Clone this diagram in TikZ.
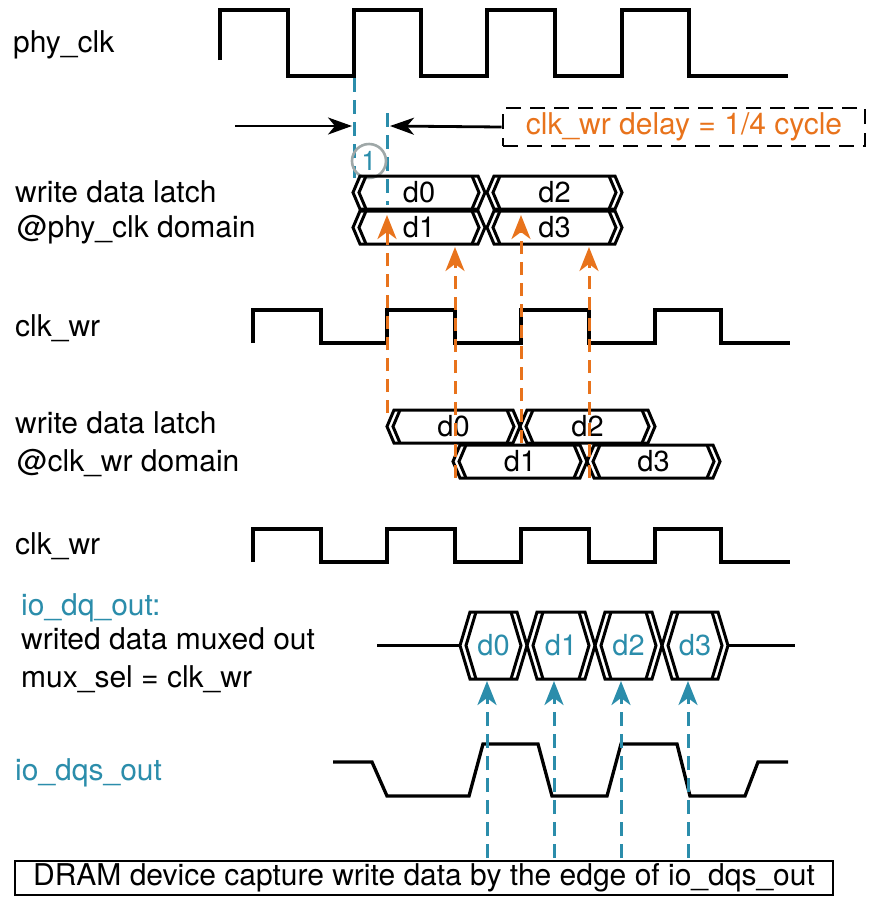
\documentclass[tikz,border=0pt]{standalone}
\usepackage{fontspec}
\setmainfont{TeX Gyre Heros}
\usetikzlibrary{arrows.meta}
\definecolor{worange}{HTML}{E8731C}
\definecolor{wblue}{HTML}{2B8DAB}
\definecolor{wgray}{HTML}{9FA8A8}
\newcommand{\busseg}[8]{%
  \draw[busline] (#2,{(#4+#5)/2}) -- ({#2+#6},#4) -- ({#3-#6},#4) -- (#3,{(#4+#5)/2}) -- ({#3-#6},#5) -- ({#2+#6},#5) -- cycle;
  \draw[busline] ({#2+#6+#7},#4) -- ({#2+#7},{(#4+#5)/2}) -- ({#2+#6+#7},#5);
  \draw[busline] ({#3-#6-#7},#4) -- ({#3-#7},{(#4+#5)/2}) -- ({#3-#6-#7},#5);
  \node[dlabel] (#1) at ({(#2+#3)/2},{(#4+#5)/2}) {#8};
}
\begin{document}
\begin{tikzpicture}[x=1pt,y=-1pt,
  wave/.style={line width=3.3pt, line join=miter},
  busline/.style={line width=3pt, line join=miter},
  lbl/.style={font=\fontsize{30}{34}\selectfont, anchor=base west, inner sep=0},
  dlabel/.style={font=\fontsize{29}{32}\selectfont, inner sep=0},
  odash/.style={worange, line width=3pt, dash pattern=on 13pt off 8pt},
  bdash/.style={wblue, line width=3pt, dash pattern=on 14pt off 8pt},
  otip/.style={-{Stealth[length=24pt,width=19pt,inset=7pt]}},
  ktip/.style={-{Stealth[length=24pt,width=17pt,inset=7pt]}}]
\useasboundingbox (0,0) rectangle (874,898);

% left labels
\node[lbl] (lphy) at (13,52) {phy\_clk};
\node[lbl] (lwl1) at (15,202) {write data latch};
\node[lbl] (lwl1b) at (17,237) {@phy\_clk domain};
\node[lbl] (lclk1) at (15,336) {clk\_wr};
\node[lbl] (lwl2) at (15,433) {write data latch};
\node[lbl] (lwl2b) at (17,471) {@clk\_wr domain};
\node[lbl] (lclk2) at (15,554) {clk\_wr};
\node[lbl, text=wblue] (ldq) at (21,615) {io\_dq\_out:};
\node[lbl] (ldq2) at (21,649) {writed data muxed out};
\node[lbl] (ldq3) at (21,687) {mux\_sel = clk\_wr};
\node[lbl, text=wblue] (ldqs) at (15,780) {io\_dqs\_out};

% phy_clk
\draw[wave] (220,60) -- (220,10) -- (288,10) -- (288,76) -- (354,76) -- (354,10) -- (421,10) -- (421,76) -- (487,76) -- (487,10) -- (555,10) -- (555,76) -- (622,76) -- (622,10) -- (689,10) -- (689,76) -- (788,76);

% delay marks
\draw[bdash] (354,78) -- (354,178);
\draw[bdash] (387,113) -- (387,205);
\node[draw=wgray, line width=2.6pt, circle, minimum size=34pt, inner sep=0, text=wblue, font=\fontsize{27}{29}\selectfont] (c1) at (369,161) {1};
\node[draw, line width=2.8pt, dash pattern=on 15pt off 9pt, minimum width=362pt, minimum height=38pt, inner sep=0, text=worange, font=\fontsize{30}{34}\selectfont] (delay) at (684,127) {clk\_wr delay = 1/4 cycle};
\coordinate (a1s) at (235,126);
\coordinate (a1e) at (352,126);
\coordinate (a2e) at (390,126);
\draw[line width=2.8pt, ktip] (a1s) -- (a1e);
\draw[line width=2.8pt, ktip] (delay.west) -- (a2e);

% latch @phy_clk
\busseg{pa0}{353}{485}{176}{209}{7}{6}{d0}
\busseg{pa2}{487}{622}{176}{209}{7}{6}{d2}
\busseg{pa1}{353}{485}{211}{244}{7}{6}{d1}
\busseg{pa3}{487}{622}{211}{244}{7}{6}{d3}

% clk_wr 1
\draw[wave] (253,343) -- (253,310) -- (321,310) -- (321,343) -- (387,343) -- (387,310) -- (455,310) -- (455,343) -- (521,343) -- (521,310) -- (589,310) -- (589,343) -- (655,343) -- (655,310) -- (721,310) -- (721,343) -- (790,343);

% latch @clk_wr
\busseg{wa0}{387}{520}{410}{443}{7}{6}{d0}
\busseg{wa2}{520}{655}{410}{443}{7}{6}{d2}
\busseg{wa1}{453}{587}{445}{478}{7}{6}{d1}
\busseg{wa3}{587}{720}{445}{478}{7}{6}{d3}

% orange arrows
\coordinate (o1b) at (387,413); \coordinate (o1t) at (387,215);
\coordinate (o2b) at (455,478); \coordinate (o2t) at (455,247);
\coordinate (o3b) at (521,443); \coordinate (o3t) at (521,215);
\coordinate (o4b) at (589,478); \coordinate (o4t) at (589,247);
\draw[odash, otip] (o1b) -- (o1t);
\draw[odash, otip] (o2b) -- (o2t);
\draw[odash, otip] (o3b) -- (o3t);
\draw[odash, otip] (o4b) -- (o4t);

% clk_wr 2
\draw[wave] (253,562) -- (253,529) -- (321,529) -- (321,562) -- (387,562) -- (387,529) -- (455,529) -- (455,562) -- (521,562) -- (521,529) -- (589,529) -- (589,562) -- (655,562) -- (655,529) -- (721,529) -- (721,562) -- (790,562);

% io_dq_out
\draw[busline] (377,645) -- (460,645);
\draw[busline] (728,645) -- (795,645);
\begin{scope}[dlabel/.append style={text=wblue}]
\busseg{q0}{460}{527}{612}{679}{10}{6}{d0}
\busseg{q1}{527}{595}{612}{679}{10}{6}{d1}
\busseg{q2}{595}{662}{612}{679}{10}{6}{d2}
\busseg{q3}{662}{728}{612}{679}{10}{6}{d3}
\end{scope}

% io_dqs_out
\draw[wave] (333,762) -- (372,762) -- (387,796) -- (469,796) -- (483,744) -- (538,744) -- (552,796) -- (607,796) -- (621,744) -- (677,744) -- (690,796) -- (745,796) -- (758,762) -- (788,762);

% blue arrows
\coordinate (b1b) at (487,858); \coordinate (b1t) at (487,681);
\coordinate (b2b) at (554,858); \coordinate (b2t) at (554,681);
\coordinate (b3b) at (621,858); \coordinate (b3t) at (621,681);
\coordinate (b4b) at (688,858); \coordinate (b4t) at (688,681);
\draw[bdash, otip] (b1b) -- (b1t);
\draw[bdash, otip] (b2b) -- (b2t);
\draw[bdash, otip] (b3b) -- (b3t);
\draw[bdash, otip] (b4b) -- (b4t);

% bottom box
\node[draw, line width=2.6pt, minimum width=818pt, minimum height=34pt, inner sep=0, font=\fontsize{30}{34}\selectfont] (dram) at (424,878) {DRAM device capture write data by the edge of io\_dqs\_out};
\end{tikzpicture}
\end{document}
